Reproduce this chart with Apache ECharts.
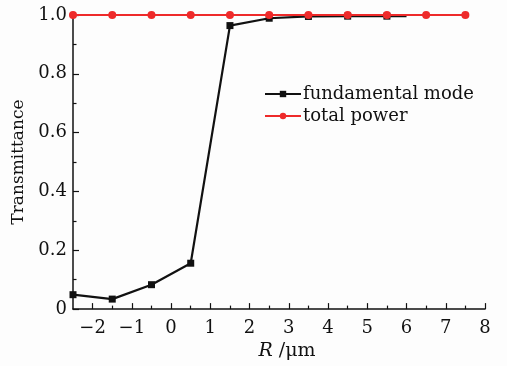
<!DOCTYPE html>
<html><head><meta charset="utf-8">
<script src="https://cdn.jsdelivr.net/npm/echarts@6/dist/echarts.min.js"></script>
<style>html,body{margin:0;padding:0;background:#fdfdfd}#c{width:507px;height:366px}</style>
</head><body><div id="c"></div>
<script>
const fundX = [-2.5, -1.5, -0.5, 0.5, 1.5, 2.5, 3.5, 4.5, 5.5, 6.0];
const fundY = [0.049, 0.034, 0.083, 0.156, 0.964, 0.989, 0.995, 0.996, 0.996, 0.996];
const fundMarked = [true, true, true, true, true, true, true, true, true, false];
const totalX = [-2.5, -1.5, -0.5, 0.5, 1.5, 2.5, 3.5, 4.5, 5.5, 6.5, 7.5];
const totalY = [1.0, 1.0, 1.0, 1.0, 1.0, 1.0, 1.0, 1.0, 1.0, 1.0, 1.0];
const xTicks = [-2, -1, 0, 1, 2, 3, 4, 5, 6, 7, 8];
const xMinorTicks = [-1.5, -0.5, 0.5, 1.5, 2.5, 3.5, 4.5, 5.5, 6.5, 7.5];
const seriesNames = ['fundamental mode', 'total power'];

const FONT = 'DejaVu Serif';
const chart = echarts.init(document.getElementById('c'));
const fundData = fundX.map((x, i) => fundMarked[i] ? [x, fundY[i]] : {value: [x, fundY[i]], symbol: 'none'});
const totalData = totalX.map((x, i) => [x, totalY[i]]);
chart.setOption({
  backgroundColor: '#fdfdfd',
  animation: false,
  grid: {left: 73, right: 22, top: 15, bottom: 54},
  legend: {
    orient: 'vertical', left: 259, top: 80, itemGap: 4,
    itemWidth: 36, itemHeight: 8,
    textStyle: {fontFamily: FONT, fontSize: 18, color: '#111', padding: [0, 0, 0, -3]},
    data: seriesNames
  },
  xAxis: [{
    type: 'value', min: -2.5, max: 8,
    axisLine: {onZero: false, lineStyle: {color: '#111', width: 1.5}},
    axisTick: {inside: true, length: 6, customValues: xTicks, lineStyle: {color: '#111', width: 1.2}},
    axisLabel: {customValues: xTicks, fontFamily: FONT, fontSize: 18, color: '#111', margin: 10,
      formatter: v => (v < 0 ? '\u2212' + Math.abs(v) : String(v))},
    splitLine: {show: false},
    name: '{i|R} /μm', nameLocation: 'middle', nameGap: 27,
    nameTextStyle: {fontFamily: FONT, fontSize: 19, color: '#111', padding: [0, 0, 0, 16],
      rich: {i: {fontFamily: FONT, fontStyle: 'italic', fontSize: 19, color: '#111'}}}
  }, {
    type: 'value', min: -2.5, max: 8, position: 'bottom',
    axisLine: {show: false, onZero: false},
    axisTick: {inside: true, length: 3.5, customValues: xMinorTicks, lineStyle: {color: '#111', width: 1.2}},
    axisLabel: {show: false}, splitLine: {show: false}
  }],
  yAxis: {
    type: 'value', min: 0, max: 1.0, interval: 0.2,
    axisLine: {show: true, onZero: false, lineStyle: {color: '#111', width: 1.5}},
    axisTick: {show: true, inside: true, length: 6, lineStyle: {color: '#111', width: 1.2}},
    minorTick: {show: true, splitNumber: 2, length: 3.5, lineStyle: {color: '#111', width: 1.2}},
    axisLabel: {fontFamily: FONT, fontSize: 18, color: '#111', margin: 6,
      formatter: v => (v === 0 ? '0' : v.toFixed(1))},
    splitLine: {show: false},
    name: 'Transmittance', nameLocation: 'middle', nameGap: 43,
    nameTextStyle: {fontFamily: FONT, fontSize: 17, color: '#111'}
  },
  series: [{
    name: seriesNames[0], type: 'line', data: fundData, clip: false,
    symbol: 'rect', symbolSize: 7,
    lineStyle: {color: '#111', width: 2.2}, itemStyle: {color: '#111'}, z: 2
  }, {
    name: seriesNames[1], type: 'line', data: totalData, clip: false,
    symbol: 'circle', symbolSize: 8,
    lineStyle: {color: '#ee2a2a', width: 2.2}, itemStyle: {color: '#ee2a2a'}, z: 3
  }]
});
</script></body></html>
